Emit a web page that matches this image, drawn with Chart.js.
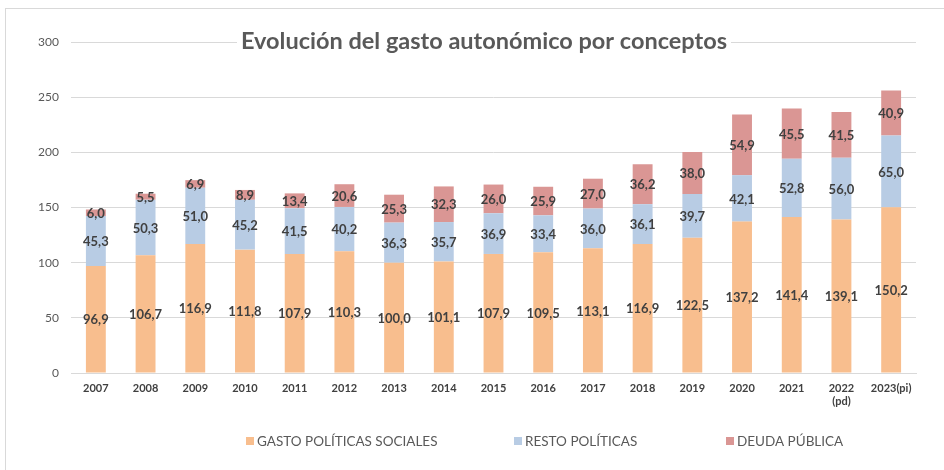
<!DOCTYPE html>
<html>
<head>
<meta charset="utf-8">
<script src="https://cdn.jsdelivr.net/npm/chart.js@4"></script>
<style>
  body { margin: 0; background: #fff; }
  #frame { position: absolute; left: 5px; top: 8px; width: 960px; height: 480px;
           border-left: 1px solid #d9d9d9; border-top: 1px solid #d9d9d9; }
  #wrap { position: absolute; left: 0; top: 0; width: 944px; height: 470px; }
</style>
</head>
<body>
<div id="frame"></div>
<div id="wrap"><canvas id="gasto"></canvas></div>
<script>
// años
const years = [
    "2007", "2008", "2009", "2010", "2011", "2012", "2013", "2014", "2015",
    "2016", "2017", "2018", "2019", "2020", "2021", ["2022", "(pd)"], "2023(pi)"
];

// series (miles de millones)
const gastoSocial = [96.9, 106.7, 116.9, 111.8, 107.9, 110.3, 100.0, 101.1, 107.9, 109.5, 113.1, 116.9, 122.5, 137.2, 141.4, 139.1, 150.2];
const restoPoliticas = [45.3, 50.3, 51.0, 45.2, 41.5, 40.2, 36.3, 35.7, 36.9, 33.4, 36.0, 36.1, 39.7, 42.1, 52.8, 56.0, 65.0];
const deudaPublica = [6.0, 5.5, 6.9, 8.9, 13.4, 20.6, 25.3, 32.3, 26.0, 25.9, 27.0, 36.2, 38.0, 54.9, 45.5, 41.5, 40.9];

const yTicks = [0, 50, 100, 150, 200, 250, 300];

const titleText = "Evolución del gasto autonómico por conceptos";
const FONT = "Lato, 'Open Sans', sans-serif";

// formato español: 96,9
function fmt(v) {
    return v.toFixed(1).replace(".", ",");
}

// etiquetas centradas en cada segmento
const segmentLabels = {
    id: "segmentLabels",
    afterDatasetsDraw(chart) {
        const c = chart.ctx;
        c.save();
        c.font = "bold 13px " + FONT;
        c.fillStyle = "#404040";
        c.textAlign = "center";
        c.textBaseline = "middle";
        chart.data.datasets.forEach((ds, i) => {
            const meta = chart.getDatasetMeta(i);
            meta.data.forEach((bar, j) => {
                const mid = (bar.y + bar.base) / 2;
                c.fillText(fmt(ds.data[j]), bar.x, mid + 1);
            });
        });
        c.restore();
    }
};

// título y leyenda a mano, como en Excel
const decorations = {
    id: "decorations",
    afterDraw(chart) {
        const c = chart.ctx;
        c.save();
        c.font = "bold 23.5px " + FONT;
        const w = c.measureText(titleText).width;
        const cx = 484, cy = 41;
        c.fillStyle = "#fff";
        c.fillRect(cx - w / 2 - 4, cy - 15, w + 8, 30);
        c.fillStyle = "#595959";
        c.textAlign = "center";
        c.textBaseline = "middle";
        c.fillText(titleText, cx, cy);

        // leyenda
        const starts = [246, 514, 726];
        c.font = "13.5px " + FONT;
        c.textAlign = "left";
        chart.data.datasets.forEach((ds, i) => {
            const x = starts[i];
            const y = 441;
            c.fillStyle = ds.backgroundColor;
            c.fillRect(x, y - 4, 8, 8);
            c.fillStyle = "#595959";
            c.fillText(ds.label, x + 11, y + 1);
        });
        c.restore();
    }
};

const ctx = document.getElementById("gasto").getContext("2d");
const chart = new Chart(ctx, {
    type: "bar",
    data: {
        labels: years,
        datasets: [
            { label: "GASTO POLÍTICAS SOCIALES", data: gastoSocial, backgroundColor: "#F8BE8E" },
            { label: "RESTO POLÍTICAS", data: restoPoliticas, backgroundColor: "#B8CCE4" },
            { label: "DEUDA PÚBLICA", data: deudaPublica, backgroundColor: "#DA9694" }
        ]
    },
    options: {
        responsive: true,
        maintainAspectRatio: false,
        animation: false,
        layout: { padding: { left: 0, top: 42, right: 28, bottom: 0 } },
        datasets: { bar: { barPercentage: 0.4, categoryPercentage: 1.0 } },
        plugins: {
            legend: { display: false },
            title: { display: false },
            tooltip: { enabled: false }
        },
        scales: {
            x: {
                stacked: true,
                grid: { display: false, drawTicks: false },
                border: { display: true, color: "#d9d9d9" },
                ticks: {
                    padding: 9,
                    color: "#404040",
                    font: { family: FONT, size: 11, weight: "bold" },
                    maxRotation: 0,
                    autoSkip: false
                },
                afterFit(scale) { scale.height = 97; }
            },
            y: {
                stacked: true,
                min: 0,
                max: 300,
                afterBuildTicks(scale) { scale.ticks = yTicks.map(v => ({ value: v })); },
                grid: { color: "#d9d9d9", drawTicks: false },
                border: { display: false },
                ticks: {
                    padding: 12,
                    color: "#595959",
                    font: { family: FONT, size: 12 }
                },
                afterFit(scale) { scale.width = 71; }
            }
        }
    },
    plugins: [segmentLabels, decorations]
});
</script>
</body>
</html>
